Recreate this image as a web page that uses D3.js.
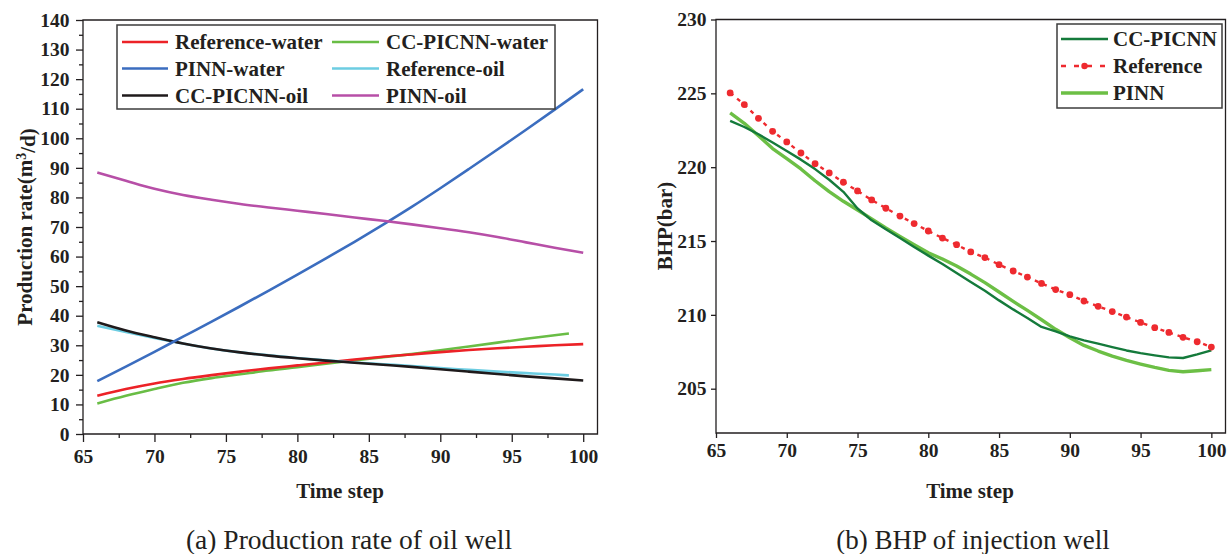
<!DOCTYPE html>
<html>
<head>
<meta charset="utf-8">
<script src="https://cdn.jsdelivr.net/npm/d3@7"></script>
<style>
  html, body { margin: 0; padding: 0; background: #fff; }
  svg { display: block; }
</style>
</head>
<body>
<svg id="fig" width="1227" height="554"></svg>
<script>
// ---------- (a) Production rate of oil well ----------
const stepsA   = [66,68,70,72,74,76,78,80,82,84,86,88,90,92,94,96,98,100];
const stepsA99 = [66,68,70,72,74,76,78,80,82,84,86,88,90,92,94,96,98,99];

const refWater   = [12.9,15.2,17.1,18.6,19.9,21.1,22.2,23.2,24.2,25.2,26.1,26.9,27.7,28.4,29.0,29.5,30.0,30.4];
const ccWater    = [10.3,12.9,15.2,17.3,18.9,20.2,21.5,22.6,23.8,24.9,26.0,27.0,28.3,29.6,30.9,32.2,33.4,34.0];
const pinnWater  = [17.9,22.8,27.8,32.9,38.0,43.2,48.5,53.9,59.4,65.0,70.8,76.8,83.1,89.6,96.2,102.9,109.7,116.6];
const refOil     = [36.6,34.5,32.5,30.6,28.9,27.6,26.6,25.7,24.9,24.2,23.6,23.0,22.3,21.7,21.1,20.6,20.1,19.8];
const ccOil      = [37.8,35.0,32.7,30.6,28.9,27.6,26.5,25.6,24.8,24.1,23.4,22.7,21.9,21.1,20.3,19.5,18.8,18.1];
const pinnOil    = [88.4,85.6,82.9,80.8,79.2,77.8,76.6,75.5,74.4,73.2,72.1,70.9,69.6,68.2,66.6,64.8,63.0,61.3];

const ticksA_x = [65,70,75,80,85,90,95,100];
const ticksA_y = [0,10,20,30,40,50,60,70,80,90,100,110,120,130,140];

// ---------- (b) BHP of injection well ----------
const stepsB = [66,67,68,69,70,71,72,73,74,75,76,77,78,79,80,81,82,83,84,85,86,87,88,89,90,91,92,93,94,95,96,97,98,99,100];
const ccBhp  = [223.13,222.72,222.23,221.67,221.09,220.51,219.87,219.15,218.33,217.2,216.4,215.8,215.21,214.6,214.01,
                213.44,212.84,212.23,211.63,210.98,210.37,209.79,209.18,208.88,208.54,208.27,208.05,207.82,207.59,207.41,
                207.26,207.12,207.08,207.32,207.59];
const refBhp = [225.03,224.24,223.31,222.43,221.71,220.96,220.24,219.61,218.98,218.39,217.78,217.22,216.69,216.18,215.68,
                215.2,214.75,214.26,213.88,213.4,212.97,212.56,212.13,211.71,211.37,210.94,210.58,210.22,209.85,209.49,
                209.13,208.81,208.48,208.18,207.82];
const pinnBhp = [223.67,222.97,222.13,221.26,220.58,219.88,219.08,218.34,217.69,217.1,216.5,215.88,215.31,214.75,214.2,
                 213.78,213.31,212.76,212.18,211.55,210.91,210.3,209.67,209.02,208.45,207.93,207.55,207.21,206.92,206.67,
                 206.44,206.24,206.15,206.22,206.29];

const ticksB_x = [65,70,75,80,85,90,95,100];
const ticksB_y = [205,210,215,220,225,230];

const INK = "#231f20";
const SERIF = "'Liberation Serif', 'Times New Roman', Times, serif";
const svg = d3.select("#fig");
svg.append("rect").attr("width", 1227).attr("height", 554).attr("fill", "#fff");

function txt(sel) { return sel.attr("font-family", SERIF).attr("fill", INK); }

function styleAxis(g) {
  g.attr("font-family", SERIF);
  g.select(".domain").remove();
  g.selectAll(".tick line").attr("stroke", INK).attr("stroke-width", 1.3);
  g.selectAll(".tick text")
    .attr("fill", INK)
    .attr("font-family", SERIF)
    .attr("font-size", 19.5)
    .attr("font-weight", "bold");
}

function frame(x0, x1, y0, y1) {
  svg.append("path")
    .attr("d", `M${x0},${y1}V${y0}H${x1}V${y1}Z`)
    .attr("fill", "none").attr("stroke", INK).attr("stroke-width", 1.3);
}

function legend(x, y, w, h, rows) {
  const g = svg.append("g");
  g.append("rect").attr("x", x).attr("y", y).attr("width", w).attr("height", h)
    .attr("fill", "#fff").attr("stroke", "#3d3d3d").attr("stroke-width", 1.5);
  rows.forEach(r => {
    if (r.dots) {
      g.append("line").attr("x1", r.lx0).attr("x2", r.lx1).attr("y1", r.cy).attr("y2", r.cy)
        .attr("stroke", r.color).attr("stroke-width", r.width).attr("stroke-dasharray", r.dash);
      g.append("circle").attr("cx", (r.lx0 + r.lx1) / 2).attr("cy", r.cy).attr("r", 3.2).attr("fill", r.color);
    } else {
      g.append("line").attr("x1", r.lx0).attr("x2", r.lx1).attr("y1", r.cy).attr("y2", r.cy)
        .attr("stroke", r.color).attr("stroke-width", r.width);
    }
    txt(g.append("text")).attr("x", r.tx).attr("y", r.cy).attr("dy", "0.34em")
      .attr("font-size", 21).attr("font-weight", "bold").text(r.label);
  });
}

// ================= Panel (a) =================
{
  const x = d3.scaleLinear().domain([65, 101]).range([83, 597.5]);
  const y = d3.scaleLinear().domain([0, 140]).range([434, 20]);

  // minor ticks
  styleAxis(svg.append("g").attr("transform", "translate(0,434)")
    .call(d3.axisBottom(x).tickValues(d3.range(67.5, 100, 5)).tickSize(4).tickFormat("")));
  styleAxis(svg.append("g").attr("transform", "translate(83,0)")
    .call(d3.axisLeft(y).tickValues(d3.range(5, 140, 10)).tickSize(4).tickFormat("")));

  styleAxis(svg.append("g").attr("transform", "translate(0,434)")
    .call(d3.axisBottom(x).tickValues(ticksA_x).tickSize(8).tickPadding(7.5)));
  styleAxis(svg.append("g").attr("transform", "translate(83,0)")
    .call(d3.axisLeft(y).tickValues(ticksA_y).tickSize(7).tickPadding(6.5)));

  frame(83, 597.5, 20, 434);

  const series = [
    { xs: stepsA99, ys: ccWater,   color: "#69bd45" },
    { xs: stepsA,   ys: refWater,  color: "#ec2227" },
    { xs: stepsA99, ys: refOil,    color: "#6ccde2" },
    { xs: stepsA,   ys: ccOil,     color: "#1f1a1b" },
    { xs: stepsA,   ys: pinnWater, color: "#3b6dbf" },
    { xs: stepsA,   ys: pinnOil,   color: "#b74fa7" }
  ];
  const line = d3.line().curve(d3.curveMonotoneX).x(d => x(d[0])).y(d => y(d[1]));
  series.forEach(s => {
    svg.append("path")
      .attr("d", line(s.xs.map((t, i) => [t, s.ys[i]])))
      .attr("fill", "none").attr("stroke", s.color).attr("stroke-width", 2.6)
      .attr("stroke-linejoin", "round");
  });

  legend(117, 25, 438, 84, [
    { label: "Reference-water", color: "#ec2227", width: 2.6, lx0: 122, lx1: 168, tx: 175, cy: 42 },
    { label: "PINN-water",      color: "#3b6dbf", width: 2.6, lx0: 122, lx1: 168, tx: 175, cy: 68.5 },
    { label: "CC-PICNN-oil",    color: "#1f1a1b", width: 2.6, lx0: 122, lx1: 168, tx: 175, cy: 95.5 },
    { label: "CC-PICNN-water",  color: "#69bd45", width: 2.6, lx0: 332, lx1: 379, tx: 386, cy: 42 },
    { label: "Reference-oil",   color: "#6ccde2", width: 2.6, lx0: 332, lx1: 379, tx: 386, cy: 68.5 },
    { label: "PINN-oil",        color: "#b74fa7", width: 2.6, lx0: 332, lx1: 379, tx: 386, cy: 95.5 }
  ]);

  txt(svg.append("text")).attr("x", 340).attr("y", 498).attr("text-anchor", "middle")
    .attr("font-size", 21).attr("font-weight", "bold").text("Time step");

  const yt = txt(svg.append("text")).attr("transform", "translate(32,227) rotate(-90)")
    .attr("text-anchor", "middle").attr("font-size", 21).attr("font-weight", "bold");
  yt.append("tspan").text("Production rate(m");
  yt.append("tspan").attr("dy", "-0.45em").attr("font-size", 14).text("3");
  yt.append("tspan").attr("dy", "0.45em").text("/d)");

  txt(svg.append("text")).attr("x", 349).attr("y", 549).attr("text-anchor", "middle")
    .attr("font-size", 27.5).text("(a) Production rate of oil well");
}

// ================= Panel (b) =================
{
  const x = d3.scaleLinear().domain([65, 101]).range([716, 1225.5]);
  const y = d3.scaleLinear().domain([202, 230]).range([433, 19.5]);

  styleAxis(svg.append("g").attr("transform", "translate(0,433)")
    .call(d3.axisBottom(x).tickValues(ticksB_x).tickSize(5).tickPadding(5.5)));
  styleAxis(svg.append("g").attr("transform", "translate(716,0)")
    .call(d3.axisLeft(y).tickValues(ticksB_y).tickSize(5).tickPadding(4.5)));

  frame(716, 1225.5, 19.5, 433);

  const line = d3.line().x(d => x(d[0])).y(d => y(d[1]));
  const pts = ys => stepsB.map((t, i) => [t, ys[i]]);

  svg.append("path").attr("d", line(pts(pinnBhp)))
    .attr("fill", "none").attr("stroke", "#6cbf45").attr("stroke-width", 3.4).attr("stroke-linejoin", "round");
  svg.append("path").attr("d", line(pts(ccBhp)))
    .attr("fill", "none").attr("stroke", "#147a3b").attr("stroke-width", 2.4).attr("stroke-linejoin", "round");
  svg.append("path").attr("d", line(pts(refBhp)))
    .attr("fill", "none").attr("stroke", "#ee2a2f").attr("stroke-width", 2.4).attr("stroke-dasharray", "4,5");
  svg.append("g").selectAll("circle").data(pts(refBhp)).join("circle")
    .attr("cx", d => x(d[0])).attr("cy", d => y(d[1])).attr("r", 3.4).attr("fill", "#ee2a2f");

  legend(1057, 24, 165, 84, [
    { label: "CC-PICNN", color: "#147a3b", width: 2.6, lx0: 1061, lx1: 1108, tx: 1113, cy: 39 },
    { label: "Reference", color: "#ee2a2f", width: 2.4, lx0: 1061, lx1: 1108, tx: 1113, cy: 66, dots: true, dash: "5,8" },
    { label: "PINN", color: "#6cbf45", width: 3.4, lx0: 1061, lx1: 1108, tx: 1113, cy: 93 }
  ]);

  txt(svg.append("text")).attr("x", 970).attr("y", 498).attr("text-anchor", "middle")
    .attr("font-size", 21).attr("font-weight", "bold").text("Time step");

  txt(svg.append("text")).attr("transform", "translate(672,226) rotate(-90)")
    .attr("text-anchor", "middle").attr("font-size", 21).attr("font-weight", "bold").text("BHP(bar)");

  txt(svg.append("text")).attr("x", 973).attr("y", 549).attr("text-anchor", "middle")
    .attr("font-size", 27).text("(b) BHP of injection well");
}
</script>
</body>
</html>
